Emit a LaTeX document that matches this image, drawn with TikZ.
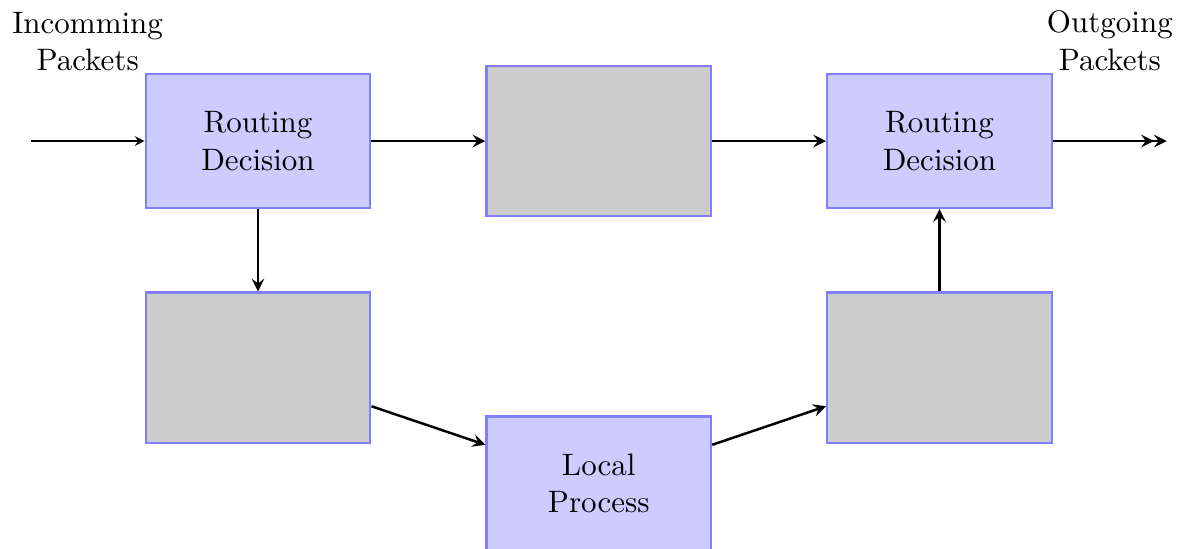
\documentclass[tikz,border=0pt]{standalone}
\usetikzlibrary{positioning}

\tikzset{
    decision/.style={draw=blue!50, fill=blue!20, thick, minimum width=2.545cm, minimum height=1.515cm, align=center},
    tablebox/.style={draw=blue!50, fill=black!20, thick, minimum width=2.545cm, minimum height=1.705cm},
    flow/.style={->, thick},
}

\begin{document}
\begin{tikzpicture}[>=stealth, node distance=0.934cm and 1.29cm]
        % Define Variables
        \def\lblUp{0.67cm}
        \def\localDrop{2.24cm}

        \useasboundingbox (0,0) rectangle (13.48,-6.213);

        % Top Row
        \node[decision] at (2.925,-1.599) (rd-in) {Routing\\Decision};
        \node[tablebox, right=of rd-in] (prerouting) {};
        \node[decision, right=of prerouting] (rd-out) {Routing\\Decision};

        % Lower Row
        \node[tablebox, below=of rd-in] (input) {};
        \node[decision, below=\localDrop of prerouting] (local) {Local\\Process};
        \node[tablebox, below=of rd-out] (output) {};

        % Packets In / Out
        \coordinate[left=of rd-in] (in);
        \coordinate[right=of rd-out] (out);
        \draw[->] (in) -- (rd-in) node[midway, above=\lblUp, align=center] {Incomming\\Packets};
        \draw[flow, ->>] (rd-out) -- (out) node[midway, above=\lblUp, align=center] {Outgoing\\Packets};

        % Forwarding
        \draw[flow] (rd-in) -- (prerouting);
        \draw[flow] (prerouting) -- (rd-out);

        % Local Path
        \draw[flow] (rd-in) -- (input);
        \draw[flow] (input) -- (local);
        \draw[flow] (local) -- (output);
        \draw[flow] (output) -- (rd-out);

\end{tikzpicture}
\end{document}
